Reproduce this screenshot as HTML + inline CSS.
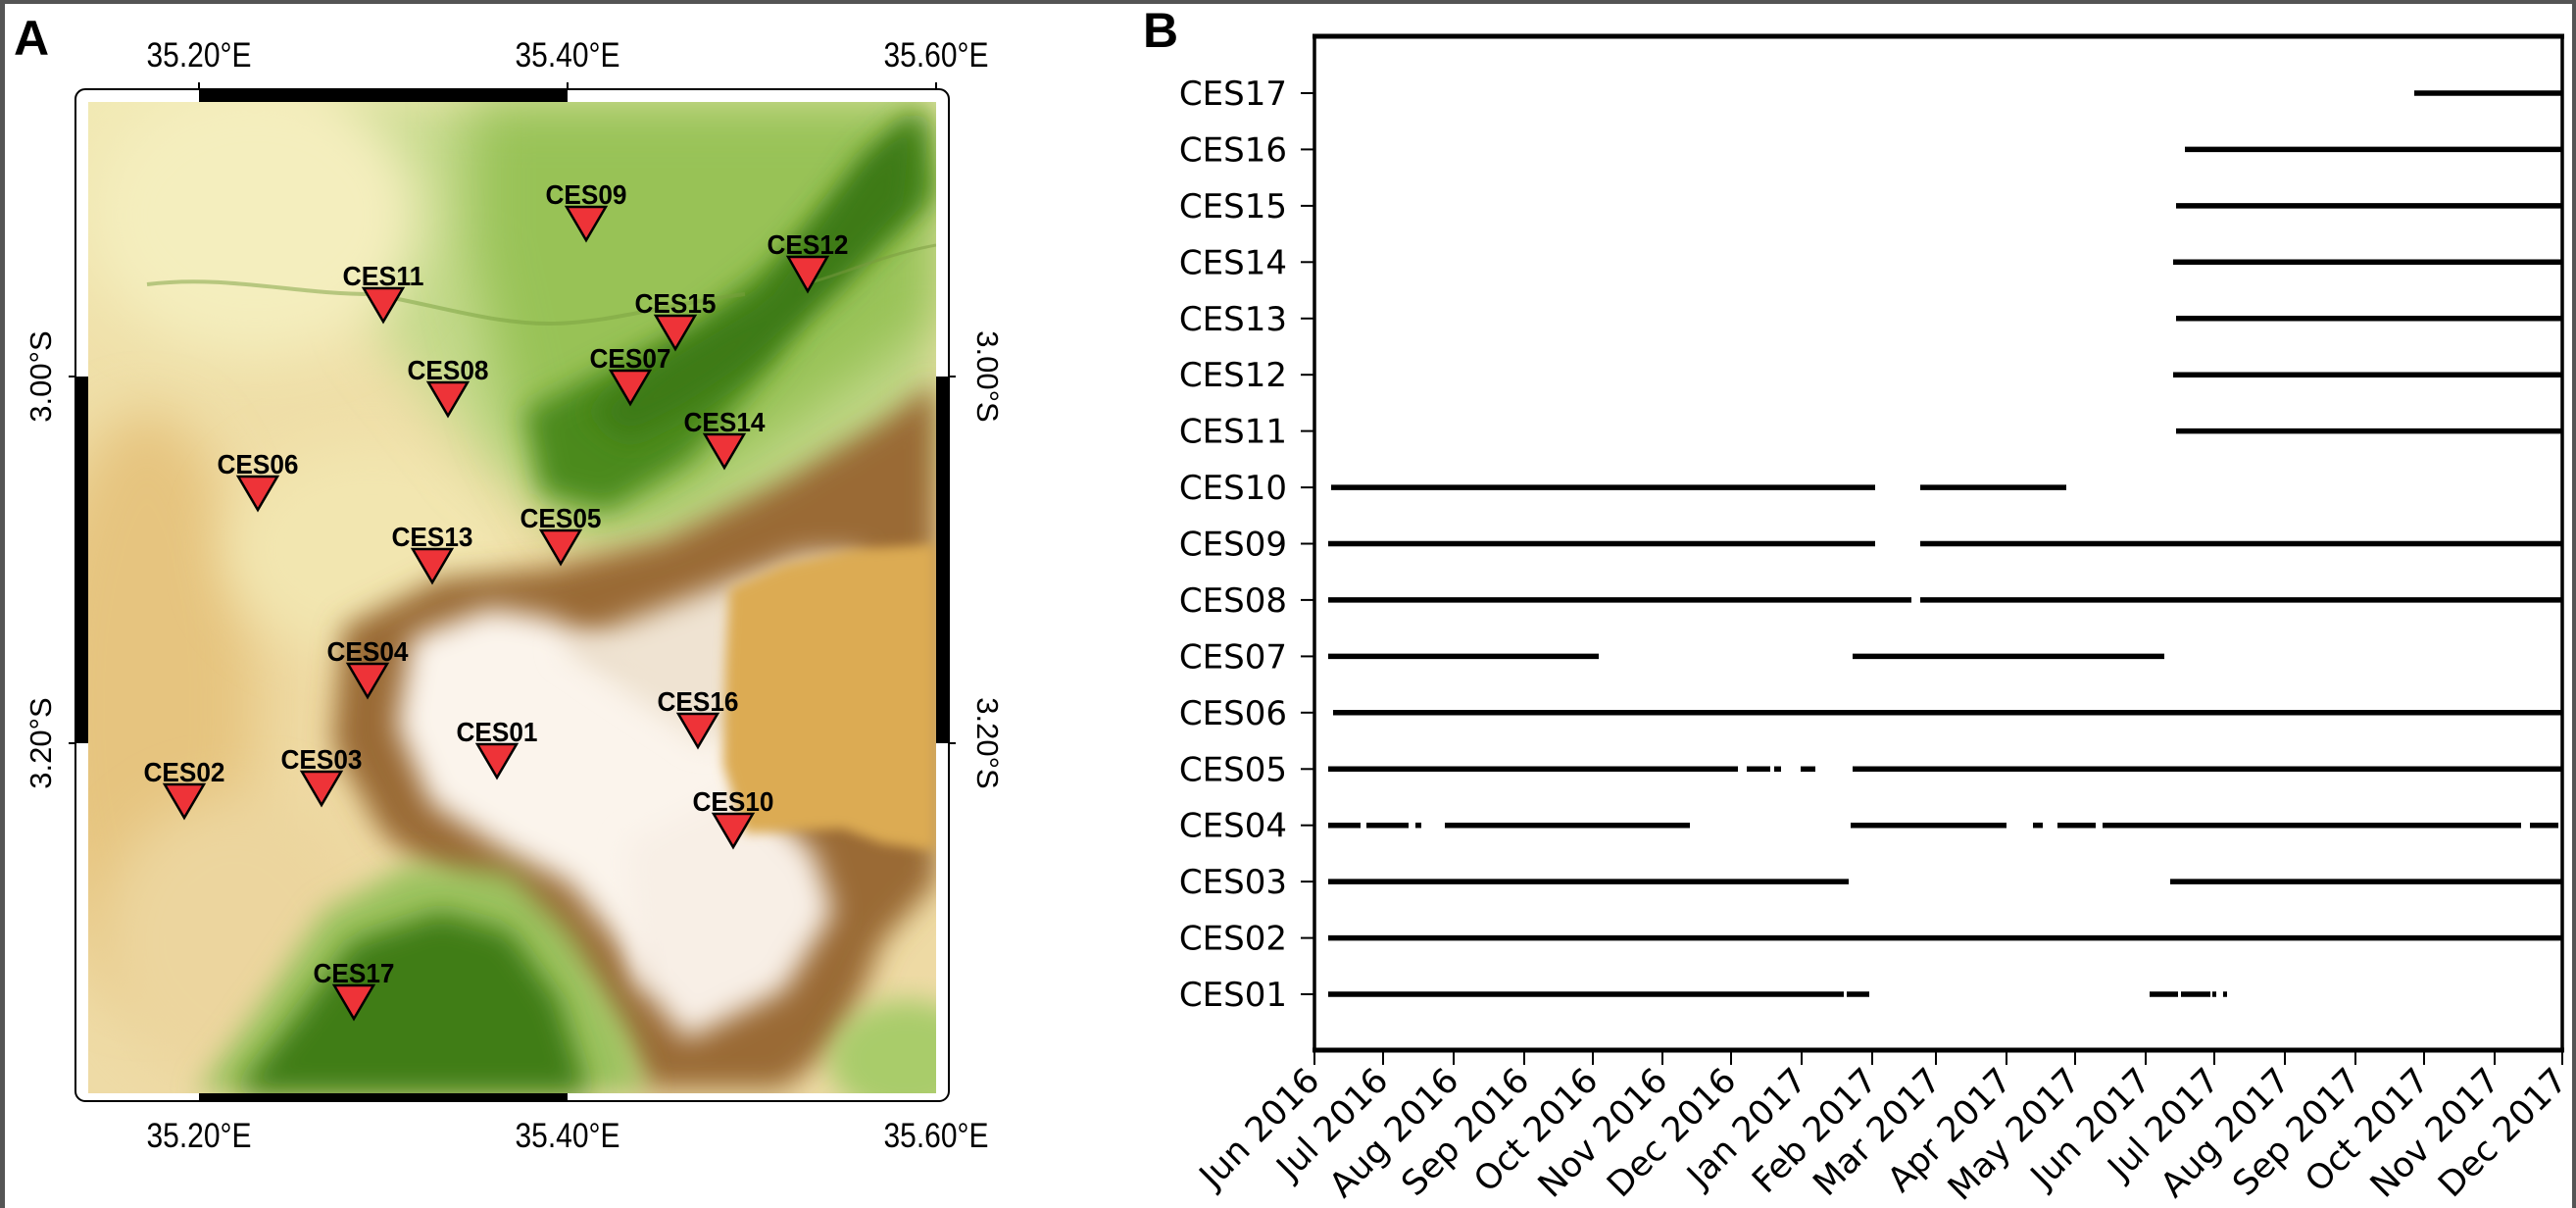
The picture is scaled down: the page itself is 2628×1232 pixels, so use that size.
<!DOCTYPE html>
<html><head><meta charset="utf-8"><style>
html,body{margin:0;padding:0;background:#fff;}
body{width:2628px;height:1232px;overflow:hidden;position:relative;}
svg{position:absolute;left:0;top:0;}
</style></head><body>
<svg width="2628" height="1232" viewBox="0 0 2628 1232" xmlns="http://www.w3.org/2000/svg">
<defs>
<filter id="b1" x="-20%" y="-20%" width="140%" height="140%"><feGaussianBlur stdDeviation="28"/></filter>
<filter id="b2" x="-20%" y="-20%" width="140%" height="140%"><feGaussianBlur stdDeviation="14"/></filter>
<filter id="b3" x="-20%" y="-20%" width="140%" height="140%"><feGaussianBlur stdDeviation="6"/></filter>
<clipPath id="mc"><rect x="90" y="104" width="865" height="1011"/></clipPath>
<linearGradient id="bg" x1="0" y1="0" x2="0" y2="1">
<stop offset="0" stop-color="#f1e9b4"/><stop offset="0.5" stop-color="#eed8a0"/><stop offset="1" stop-color="#eedba6"/></linearGradient>
</defs>
<rect x="0" y="0" width="2628" height="4" fill="#555"/>
<rect x="0" y="0" width="5" height="1232" fill="#555"/>
<rect x="2624" y="0" width="4" height="1232" fill="#555"/>

<!-- MAP -->
<rect x="77" y="91" width="891" height="1032" rx="10" fill="#fff" stroke="#000" stroke-width="2"/>
<g clip-path="url(#mc)">
<rect x="90" y="104" width="865" height="1011" fill="url(#bg)"/>
<ellipse cx="150" cy="720" rx="110" ry="300" fill="#e6c47f" filter="url(#b1)"/>
<ellipse cx="240" cy="960" rx="140" ry="150" fill="#ecd59e" filter="url(#b1)"/>
<!-- pale middle -->
<ellipse cx="380" cy="560" rx="150" ry="110" fill="#f2e6b0" filter="url(#b1)"/>
<!-- light green -->
<polygon points="330,104 955,104 955,480 780,560 620,560 500,480 380,330" fill="#c3d98a" filter="url(#b1)"/>
<polygon points="480,104 955,104 955,330 800,440 680,520 580,540 520,430 480,250" fill="#98c257" filter="url(#b1)"/>
<polygon points="938,117 955,200 830,300 788,369 704,469 620,520 553,503 536,419 603,385 704,335 788,270 870,190" fill="#4c8a1e" filter="url(#b2)"/>
<polygon points="880,160 940,110 930,210 850,300 760,380 700,420 640,450 600,420 680,360 780,300" fill="#3c7a14" filter="url(#b2)"/>
<!-- pale top-left -->
<ellipse cx="260" cy="220" rx="170" ry="140" fill="#f4eebe" filter="url(#b1)"/>
<!-- brown ring -->
<polygon points="350,640 450,590 560,580 680,550 800,490 900,430 955,390 955,900 900,960 860,1060 800,1110 660,1110 590,1000 480,920 390,850 340,760" fill="#9a6a36" filter="url(#b2)"/>
<!-- white mountains -->
<polygon points="420,650 500,620 560,630 620,660 700,690 760,740 770,810 740,880 690,960 660,1010 630,960 580,900 520,870 440,820 405,740" fill="#fbf4ec" filter="url(#b2)"/>
<polygon points="570,660 700,610 820,565 880,565 850,660 780,720 720,760" fill="#efe3d2" filter="url(#b2)"/>
<polygon points="640,860 760,800 830,870 850,930 800,1010 700,1060 650,1000" fill="#f8efe6" filter="url(#b2)"/>
<!-- crater interior -->
<polygon points="744,600 801,575 870,560 955,555 955,868 900,860 860,845 760,850 738,780 740,680" fill="#dcab52" filter="url(#b3)"/>
<!-- bottom-left green -->
<polygon points="200,1115 270,1020 330,930 420,880 520,890 580,950 640,1050 660,1115" fill="#9cc35e" filter="url(#b2)"/>
<polygon points="240,1115 300,1040 360,960 450,930 520,950 570,1020 600,1115" fill="#3f7d17" filter="url(#b2)"/>
<ellipse cx="925" cy="1080" rx="80" ry="60" fill="#a9cc6a" filter="url(#b2)"/>
<path d="M150,290 C230,280 300,300 380,300 C440,310 500,330 560,330 C620,330 680,310 760,300" fill="none" stroke="#7aa040" stroke-width="4" opacity="0.5"/>
<path d="M820,290 C860,280 900,260 955,250" fill="none" stroke="#7a9a40" stroke-width="3" opacity="0.5"/>
</g>
<rect x="203" y="91" width="376" height="13" fill="#000"/>
<rect x="203" y="1115" width="376" height="9" fill="#000"/>
<rect x="77" y="384" width="13" height="374" fill="#000"/>
<rect x="955" y="384" width="13" height="374" fill="#000"/>
<g stroke="#000" stroke-width="2">
<line x1="203" y1="84" x2="203" y2="91"/><line x1="579" y1="84" x2="579" y2="91"/><line x1="955" y1="84" x2="955" y2="91"/>
<line x1="70" y1="384" x2="77" y2="384"/><line x1="70" y1="758" x2="77" y2="758"/>
<line x1="968" y1="384" x2="975" y2="384"/><line x1="968" y1="758" x2="975" y2="758"/>
</g>
<g font-family="Liberation Sans, sans-serif" font-size="35" text-anchor="middle" fill="#000">
<text x="203" y="68" textLength="107" lengthAdjust="spacingAndGlyphs">35.20°E</text><text x="579" y="68" textLength="107" lengthAdjust="spacingAndGlyphs">35.40°E</text><text x="955" y="68" textLength="107" lengthAdjust="spacingAndGlyphs">35.60°E</text>
<text x="203" y="1170" textLength="107" lengthAdjust="spacingAndGlyphs">35.20°E</text><text x="579" y="1170" textLength="107" lengthAdjust="spacingAndGlyphs">35.40°E</text><text x="955" y="1170" textLength="107" lengthAdjust="spacingAndGlyphs">35.60°E</text>
</g>
<g font-family="Liberation Sans, sans-serif" font-size="31" text-anchor="middle" fill="#000">
<text transform="translate(52,384) rotate(-90)">3.00°S</text>
<text transform="translate(52,758) rotate(-90)">3.20°S</text>
<text transform="translate(997,384) rotate(90)">3.00°S</text>
<text transform="translate(997,758) rotate(90)">3.20°S</text>
</g>
<text x="14" y="56" font-family="Liberation Sans, sans-serif" font-weight="bold" font-size="50">A</text>
<text x="1166" y="48" font-family="Liberation Sans, sans-serif" font-weight="bold" font-size="50">B</text>

<g stroke="#000" stroke-width="2.5" fill="#ee3338">
<polygon points="578,211 618,211 598,245"/>
<polygon points="804,262 844,262 824,297"/>
<polygon points="371,294 411,294 391,328"/>
<polygon points="669,322 709,322 689,356"/>
<polygon points="623,378 663,378 643,412"/>
<polygon points="437,390 477,390 457,424"/>
<polygon points="719,443 759,443 739,477"/>
<polygon points="243,486 283,486 263,520"/>
<polygon points="552,541 592,541 572,575"/>
<polygon points="421,560 461,560 441,594"/>
<polygon points="355,677 395,677 375,711"/>
<polygon points="692,728 732,728 712,762"/>
<polygon points="487,759 527,759 507,793"/>
<polygon points="308,787 348,787 328,821"/>
<polygon points="168,800 208,800 188,834"/>
<polygon points="728,830 768,830 748,864"/>
<polygon points="341,1005 381,1005 361,1039"/>
</g>
<g font-family="Liberation Sans, sans-serif" font-weight="bold" font-size="28" text-anchor="middle" fill="#000">
<text x="598" y="208" textLength="83" lengthAdjust="spacingAndGlyphs">CES09</text>
<text x="824" y="259" textLength="83" lengthAdjust="spacingAndGlyphs">CES12</text>
<text x="391" y="291" textLength="83" lengthAdjust="spacingAndGlyphs">CES11</text>
<text x="689" y="319" textLength="83" lengthAdjust="spacingAndGlyphs">CES15</text>
<text x="643" y="375" textLength="83" lengthAdjust="spacingAndGlyphs">CES07</text>
<text x="457" y="387" textLength="83" lengthAdjust="spacingAndGlyphs">CES08</text>
<text x="739" y="440" textLength="83" lengthAdjust="spacingAndGlyphs">CES14</text>
<text x="263" y="483" textLength="83" lengthAdjust="spacingAndGlyphs">CES06</text>
<text x="572" y="538" textLength="83" lengthAdjust="spacingAndGlyphs">CES05</text>
<text x="441" y="557" textLength="83" lengthAdjust="spacingAndGlyphs">CES13</text>
<text x="375" y="674" textLength="83" lengthAdjust="spacingAndGlyphs">CES04</text>
<text x="712" y="725" textLength="83" lengthAdjust="spacingAndGlyphs">CES16</text>
<text x="507" y="756" textLength="83" lengthAdjust="spacingAndGlyphs">CES01</text>
<text x="328" y="784" textLength="83" lengthAdjust="spacingAndGlyphs">CES03</text>
<text x="188" y="797" textLength="83" lengthAdjust="spacingAndGlyphs">CES02</text>
<text x="748" y="827" textLength="83" lengthAdjust="spacingAndGlyphs">CES10</text>
<text x="361" y="1002" textLength="83" lengthAdjust="spacingAndGlyphs">CES17</text>
</g>

<!-- CHART B -->
<g stroke="#000" fill="none">
<line x1="1339" y1="37" x2="2616" y2="37" stroke-width="5"/>
<line x1="1339" y1="1071" x2="2616" y2="1071" stroke-width="5"/>
<line x1="1341" y1="35" x2="1341" y2="1073" stroke-width="3.5"/>
<line x1="2614" y1="35" x2="2614" y2="1073" stroke-width="3.5"/>
</g>
<g stroke="#000" stroke-width="2">
<line x1="1327" y1="95" x2="1341" y2="95"/><line x1="1327" y1="152.4" x2="1341" y2="152.4"/><line x1="1327" y1="209.9" x2="1341" y2="209.9"/><line x1="1327" y1="267.3" x2="1341" y2="267.3"/><line x1="1327" y1="324.8" x2="1341" y2="324.8"/><line x1="1327" y1="382.2" x2="1341" y2="382.2"/><line x1="1327" y1="439.6" x2="1341" y2="439.6"/><line x1="1327" y1="497.1" x2="1341" y2="497.1"/><line x1="1327" y1="554.5" x2="1341" y2="554.5"/><line x1="1327" y1="611.9" x2="1341" y2="611.9"/><line x1="1327" y1="669.4" x2="1341" y2="669.4"/><line x1="1327" y1="726.8" x2="1341" y2="726.8"/><line x1="1327" y1="784.3" x2="1341" y2="784.3"/><line x1="1327" y1="841.7" x2="1341" y2="841.7"/><line x1="1327" y1="899.1" x2="1341" y2="899.1"/><line x1="1327" y1="956.6" x2="1341" y2="956.6"/><line x1="1327" y1="1014" x2="1341" y2="1014"/>
</g>
<g font-family="DejaVu Sans, sans-serif" font-size="34" text-anchor="end" fill="#000">
<text x="1313" y="107">CES17</text><text x="1313" y="164.4">CES16</text><text x="1313" y="221.9">CES15</text><text x="1313" y="279.3">CES14</text><text x="1313" y="336.8">CES13</text><text x="1313" y="394.2">CES12</text><text x="1313" y="451.6">CES11</text><text x="1313" y="509.1">CES10</text><text x="1313" y="566.5">CES09</text><text x="1313" y="623.9">CES08</text><text x="1313" y="681.4">CES07</text><text x="1313" y="738.8">CES06</text><text x="1313" y="796.3">CES05</text><text x="1313" y="853.7">CES04</text><text x="1313" y="911.1">CES03</text><text x="1313" y="968.6">CES02</text><text x="1313" y="1026">CES01</text>
</g>
<g stroke="#000" stroke-width="2">
<line x1="1341" y1="1071" x2="1341" y2="1086"/><line x1="1411" y1="1071" x2="1411" y2="1086"/><line x1="1483" y1="1071" x2="1483" y2="1086"/><line x1="1555" y1="1071" x2="1555" y2="1086"/><line x1="1625" y1="1071" x2="1625" y2="1086"/><line x1="1696" y1="1071" x2="1696" y2="1086"/><line x1="1766" y1="1071" x2="1766" y2="1086"/><line x1="1838" y1="1071" x2="1838" y2="1086"/><line x1="1910" y1="1071" x2="1910" y2="1086"/><line x1="1975" y1="1071" x2="1975" y2="1086"/><line x1="2047" y1="1071" x2="2047" y2="1086"/><line x1="2117" y1="1071" x2="2117" y2="1086"/><line x1="2189" y1="1071" x2="2189" y2="1086"/><line x1="2259" y1="1071" x2="2259" y2="1086"/><line x1="2331" y1="1071" x2="2331" y2="1086"/><line x1="2403" y1="1071" x2="2403" y2="1086"/><line x1="2473" y1="1071" x2="2473" y2="1086"/><line x1="2545" y1="1071" x2="2545" y2="1086"/><line x1="2614" y1="1071" x2="2614" y2="1086"/>
</g>
<g font-family="DejaVu Sans, sans-serif" font-size="35" text-anchor="end" fill="#000">
<text transform="translate(1348,1104) rotate(-45)">Jun 2016</text>
<text transform="translate(1418,1104) rotate(-45)">Jul 2016</text>
<text transform="translate(1490,1104) rotate(-45)">Aug 2016</text>
<text transform="translate(1562,1104) rotate(-45)">Sep 2016</text>
<text transform="translate(1632,1104) rotate(-45)">Oct 2016</text>
<text transform="translate(1703,1104) rotate(-45)">Nov 2016</text>
<text transform="translate(1773,1104) rotate(-45)">Dec 2016</text>
<text transform="translate(1845,1104) rotate(-45)">Jan 2017</text>
<text transform="translate(1917,1104) rotate(-45)">Feb 2017</text>
<text transform="translate(1982,1104) rotate(-45)">Mar 2017</text>
<text transform="translate(2054,1104) rotate(-45)">Apr 2017</text>
<text transform="translate(2124,1104) rotate(-45)">May 2017</text>
<text transform="translate(2196,1104) rotate(-45)">Jun 2017</text>
<text transform="translate(2266,1104) rotate(-45)">Jul 2017</text>
<text transform="translate(2338,1104) rotate(-45)">Aug 2017</text>
<text transform="translate(2410,1104) rotate(-45)">Sep 2017</text>
<text transform="translate(2480,1104) rotate(-45)">Oct 2017</text>
<text transform="translate(2552,1104) rotate(-45)">Nov 2017</text>
<text transform="translate(2621,1104) rotate(-45)">Dec 2017</text>
</g>
<g stroke="#000" stroke-width="5.5">
<line x1="2463" y1="95" x2="2613" y2="95"/>
<line x1="2229" y1="152.4" x2="2613" y2="152.4"/>
<line x1="2220" y1="209.9" x2="2613" y2="209.9"/>
<line x1="2217" y1="267.3" x2="2613" y2="267.3"/>
<line x1="2220" y1="324.8" x2="2613" y2="324.8"/>
<line x1="2217" y1="382.2" x2="2613" y2="382.2"/>
<line x1="2220" y1="439.6" x2="2613" y2="439.6"/>
<line x1="1358" y1="497.1" x2="1913" y2="497.1"/><line x1="1959" y1="497.1" x2="2108" y2="497.1"/>
<line x1="1355" y1="554.5" x2="1913" y2="554.5"/><line x1="1959" y1="554.5" x2="2613" y2="554.5"/>
<line x1="1355" y1="611.9" x2="1950" y2="611.9"/><line x1="1959" y1="611.9" x2="2613" y2="611.9"/>
<line x1="1355" y1="669.4" x2="1631" y2="669.4"/><line x1="1890" y1="669.4" x2="2208" y2="669.4"/>
<line x1="1360" y1="726.8" x2="2613" y2="726.8"/>
<line x1="1355" y1="784.3" x2="1773" y2="784.3"/><line x1="1782" y1="784.3" x2="1806" y2="784.3"/><line x1="1810" y1="784.3" x2="1817" y2="784.3"/><line x1="1837" y1="784.3" x2="1852" y2="784.3"/><line x1="1890" y1="784.3" x2="2613" y2="784.3"/>
<line x1="1355" y1="841.7" x2="1388" y2="841.7"/><line x1="1394" y1="841.7" x2="1437" y2="841.7"/><line x1="1444" y1="841.7" x2="1450" y2="841.7"/><line x1="1474" y1="841.7" x2="1724" y2="841.7"/><line x1="1888" y1="841.7" x2="2047" y2="841.7"/><line x1="2074" y1="841.7" x2="2084" y2="841.7"/><line x1="2099" y1="841.7" x2="2138" y2="841.7"/><line x1="2145" y1="841.7" x2="2572" y2="841.7"/><line x1="2581" y1="841.7" x2="2610" y2="841.7"/>
<line x1="1355" y1="899.1" x2="1886" y2="899.1"/><line x1="2214" y1="899.1" x2="2613" y2="899.1"/>
<line x1="1355" y1="956.6" x2="2613" y2="956.6"/>
<line x1="1355" y1="1014" x2="1881" y2="1014"/><line x1="1884" y1="1014" x2="1907" y2="1014"/><line x1="2193" y1="1014" x2="2222" y2="1014"/><line x1="2225" y1="1014" x2="2255" y2="1014"/><line x1="2257" y1="1014" x2="2261" y2="1014"/><line x1="2268" y1="1014" x2="2272" y2="1014"/>
</g>
</svg>
</body></html>
